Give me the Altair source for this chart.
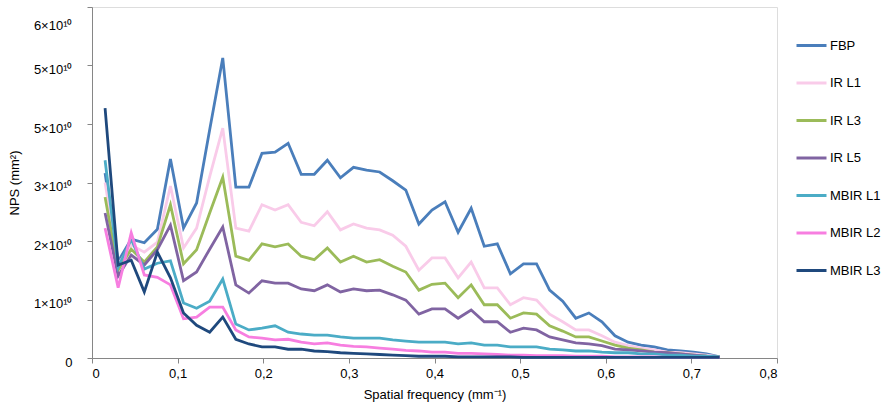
import altair as alt
import pandas as pd

series_names = ["FBP", "IR L1", "IR L3", "IR L5", "MBIR L1", "MBIR L2", "MBIR L3"]
series_colors = ["#4a7ebb", "#f9cbe9", "#9bbb59", "#8064a2", "#4bacc6", "#f77ee0", "#1f497d"]

freq_step = 0.01527
n_points = 48
frequency = [round(k * freq_step, 5) for k in range(1, n_points + 1)]

# NPS values in units of 1e10 mm^2
fbp = [3.16, 1.65, 2.03, 1.97, 2.20, 3.40, 2.22, 2.65, 3.90, 5.13,
       2.92, 2.92, 3.50, 3.52, 3.67, 3.14, 3.14, 3.38, 3.08, 3.26,
       3.21, 3.18, 3.03, 2.87, 2.29, 2.53, 2.67, 2.15, 2.56, 1.91,
       1.95, 1.44, 1.61, 1.61, 1.16, 0.97, 0.68, 0.77, 0.62, 0.38,
       0.27, 0.22, 0.19, 0.14, 0.12, 0.10, 0.07, 0.02]
ir_l1 = [3.00, 1.60, 1.93, 1.81, 1.98, 2.94, 1.88, 2.22, 3.10, 3.93,
         2.22, 2.17, 2.62, 2.53, 2.62, 2.32, 2.26, 2.50, 2.19, 2.29,
         2.22, 2.19, 2.10, 1.91, 1.50, 1.71, 1.71, 1.37, 1.64, 1.20,
         1.20, 0.91, 1.03, 0.99, 0.75, 0.62, 0.48, 0.48, 0.38, 0.27,
         0.21, 0.17, 0.14, 0.10, 0.09, 0.07, 0.05, 0.02]
ir_l3 = [2.75, 1.50, 1.86, 1.64, 1.90, 2.62, 1.61, 1.85, 2.48, 3.09,
         1.74, 1.67, 1.95, 1.90, 1.95, 1.74, 1.68, 1.88, 1.64, 1.74,
         1.64, 1.68, 1.57, 1.47, 1.16, 1.26, 1.28, 1.03, 1.25, 0.91,
         0.91, 0.68, 0.77, 0.75, 0.55, 0.46, 0.36, 0.36, 0.29, 0.22,
         0.17, 0.14, 0.10, 0.09, 0.07, 0.05, 0.03, 0.02]
ir_l5 = [2.48, 1.40, 1.76, 1.59, 1.85, 2.27, 1.32, 1.47, 1.86, 2.24,
         1.25, 1.11, 1.32, 1.28, 1.28, 1.18, 1.15, 1.25, 1.13, 1.18,
         1.15, 1.16, 1.08, 0.99, 0.75, 0.84, 0.84, 0.68, 0.82, 0.62,
         0.62, 0.44, 0.51, 0.48, 0.36, 0.31, 0.26, 0.24, 0.21, 0.15,
         0.14, 0.12, 0.10, 0.09, 0.07, 0.05, 0.03, 0.02]
mbir_l1 = [3.38, 1.55, 2.03, 1.52, 1.62, 1.66, 0.94, 0.85, 0.97, 1.35,
           0.58, 0.48, 0.51, 0.55, 0.44, 0.41, 0.39, 0.39, 0.36, 0.34,
           0.34, 0.34, 0.31, 0.29, 0.27, 0.27, 0.27, 0.24, 0.26, 0.22,
           0.22, 0.19, 0.19, 0.19, 0.15, 0.14, 0.12, 0.12, 0.10, 0.09,
           0.09, 0.07, 0.07, 0.05, 0.05, 0.03, 0.03, 0.02]
mbir_l2 = [2.22, 1.20, 2.14, 1.42, 1.38, 1.25, 0.67, 0.70, 0.87, 0.87,
           0.48, 0.36, 0.34, 0.31, 0.32, 0.27, 0.24, 0.26, 0.22, 0.20,
           0.19, 0.17, 0.15, 0.13, 0.12, 0.10, 0.10, 0.08, 0.08, 0.07,
           0.06, 0.05, 0.05, 0.04, 0.04, 0.04, 0.03, 0.03, 0.03, 0.02,
           0.02, 0.02, 0.02, 0.01, 0.01, 0.01, 0.01, 0.01]
mbir_l3 = [4.27, 1.59, 1.67, 1.13, 1.81, 1.37, 0.77, 0.56, 0.44, 0.70,
           0.32, 0.24, 0.19, 0.19, 0.15, 0.15, 0.12, 0.11, 0.09, 0.08,
           0.07, 0.06, 0.05, 0.04, 0.03, 0.03, 0.03, 0.02, 0.02, 0.02,
           0.02, 0.02, 0.01, 0.01, 0.01, 0.01, 0.01, 0.01, 0.01, 0.01,
           0.01, 0.01, 0.01, 0.01, 0.01, 0.01, 0.01, 0.01]

y_tick_values = [0, 1e10, 2e10, 3e10, 4e10, 5e10, 6e10]
y_tick_labels = ["0", "1×10¹⁰", "2×10¹⁰", "3×10¹⁰", "5×10¹⁰", "5×10¹⁰", "6×10¹⁰"]
x_tick_values = [0, 0.1, 0.2, 0.3, 0.4, 0.5, 0.6, 0.7, 0.8]

all_series = [fbp, ir_l1, ir_l3, ir_l5, mbir_l1, mbir_l2, mbir_l3]
rows = []
for order, (name, vals) in enumerate(zip(series_names, all_series)):
    for f, v in zip(frequency, vals):
        rows.append({"series": name, "order": order, "freq": f, "nps": v * 1e10})
df = pd.DataFrame(rows)

label_array = "[" + ",".join("'" + s + "'" for s in y_tick_labels) + "]"
font = "Liberation Sans"

chart = alt.Chart(df).mark_line(strokeWidth=2.8, strokeJoin="miter").encode(
    x=alt.X("freq:Q",
            scale=alt.Scale(domain=[0, 0.8], nice=False, zero=True),
            axis=alt.Axis(values=x_tick_values,
                          title="Spatial frequency (mm⁻¹)",
                          labelExpr="replace(format(datum.value, '.1~f'), '.', ',')",
                          grid=False, domainColor="#868686", tickColor="#868686",
                          tickSize=5, labelFontSize=13, labelFont=font, labelColor="#000000",
                          labelPadding=4, titleFont=font, titleFontSize=13,
                          titleFontWeight="normal", titleColor="#000000", titlePadding=8)),
    y=alt.Y("nps:Q",
            scale=alt.Scale(domain=[0, 6e10], nice=False),
            axis=alt.Axis(values=y_tick_values,
                          title="NPS (mm²)",
                          labelExpr=label_array + "[round(datum.value / 1e10)]",
                          grid=False, domainColor="#868686", tickColor="#868686",
                          tickSize=5, labelFontSize=13, labelFont=font, labelColor="#000000",
                          labelPadding=15,
                          labelOffset={"condition": {"test": "datum.value == 60000000000", "value": 18}, "value": 4},
                          titleFont=font, titleFontSize=13,
                          titleFontWeight="normal", titleColor="#000000", titlePadding=12)),
    color=alt.Color("series:N",
                    scale=alt.Scale(domain=series_names, range=series_colors),
                    legend=alt.Legend(title=None, orient="none", legendX=703, legendY=22,
                                      symbolType="stroke", symbolSize=900, symbolStrokeWidth=3,
                                      labelFont=font, labelFontSize=13, labelColor="#000000",
                                      labelOffset=2, rowPadding=13.5, padding=0)),
    order=alt.Order("order:Q"),
    detail="series:N",
).properties(
    width=685, height=351,
    autosize=alt.AutoSizeParams(type="none"),
    padding={"left": 92, "top": 7, "right": 108, "bottom": 48},
).configure_view(stroke=None).configure(background="#ffffff")

chart.save("out.html", embed_options={"renderer": "svg", "actions": False})
